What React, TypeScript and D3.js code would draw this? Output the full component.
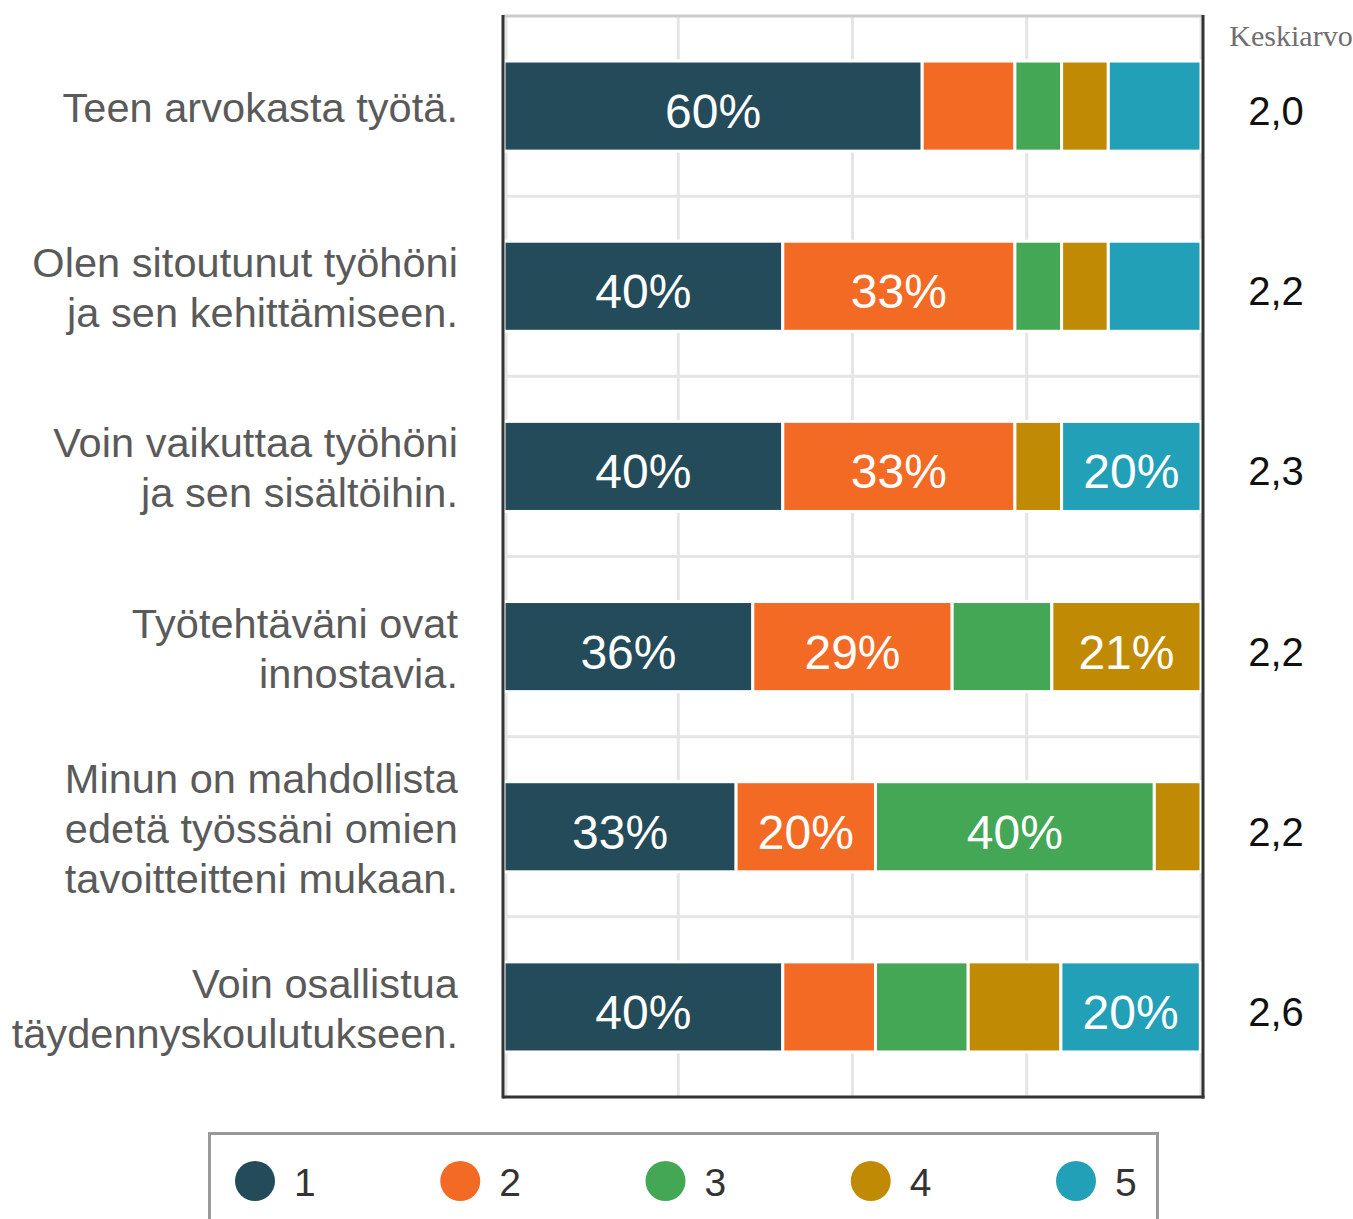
import React from "react";
import * as d3 from "d3";

const categories = [
  ["Teen arvokasta työtä."],
  ["Olen sitoutunut työhöni", "ja sen kehittämiseen."],
  ["Voin vaikuttaa työhöni", "ja sen sisältöihin."],
  ["Työtehtäväni ovat", "innostavia."],
  ["Minun on mahdollista", "edetä työssäni omien", "tavoitteitteni mukaan."],
  ["Voin osallistua", "täydennyskoulutukseen."],
];

// percent shares of answers 1..5 per statement
const share1 = [60, 40, 40, 35.7, 33.3, 40];
const share2 = [13.3, 33.3, 33.3, 28.6, 20, 13.3];
const share3 = [6.7, 6.7, 0, 14.3, 40, 13.3];
const share4 = [6.7, 6.7, 6.7, 21.4, 6.7, 13.3];
const share5 = [13.3, 13.3, 20, 0, 0, 20];

const means = ["2,0", "2,2", "2,3", "2,2", "2,2", "2,6"];

const legendKeys = ["1", "2", "3", "4", "5"];
const colors = ["#234b5a", "#f36a25", "#44a756", "#c18a04", "#22a0b7"];

const W = 1353;
const H = 1219;
const left = 504;
const right = 1201;
const top = 16;
const bottom = 1097;

export default function App() {
  const series = [share1, share2, share3, share4, share5];
  const ids = categories.map((_, i) => String(i));
  const x = d3.scaleLinear().domain([0, 100]).range([left, right]);
  const y = d3
    .scaleBand()
    .domain(ids)
    .range([top, bottom])
    .paddingInner(0.5)
    .paddingOuter(0.25);
  const bw = y.bandwidth();
  const step = y.step();

  const rows = ids.map((id, i) => {
    let acc = 0;
    return series.map((s, k) => {
      const x0 = acc;
      acc += s[i];
      return { k, x0, x1: acc, v: s[i], id };
    });
  });

  const legendX = d3.scalePoint().domain(legendKeys).range([255, 1076]);

  return (
    <svg
      width={W}
      height={H}
      style={{ position: "absolute", left: 0, top: 0 }}
      fontFamily="'Liberation Sans', Arial, sans-serif"
    >
      {/* grid */}
      {[0, 25, 50, 75, 100].map((t) => (
        <line key={t} x1={x(t) + (t === 0 ? 2 : 0)} x2={x(t) + (t === 0 ? 2 : 0)} y1={top} y2={bottom} stroke="#e5e5e5" strokeWidth={3} />
      ))}
      {ids.slice(0, -1).map((id) => {
        const yy = (y(id) as number) + bw / 2 + step / 2;
        return <line key={id} x1={left} x2={right} y1={yy} y2={yy} stroke="#e5e5e5" strokeWidth={3} />;
      })}
      <line x1={left} x2={right + 2} y1={top} y2={top} stroke="#cccccc" strokeWidth={3} />

      {/* bars */}
      {rows.map((segs, i) =>
        segs
          .filter((d) => d.v > 0)
          .map((d) => {
            const y0 = y(d.id) as number;
            return (
              <g key={i + "-" + d.k}>
                <rect
                  x={x(d.x0)}
                  y={y0}
                  width={x(d.x1) - x(d.x0)}
                  height={bw}
                  fill={colors[d.k]}
                  stroke="#ffffff"
                  strokeWidth={3}
                />
                {d.v >= 15 && (
                  <text
                    x={(x(d.x0) + x(d.x1)) / 2}
                    y={y0 + bw / 2 + 22}
                    textAnchor="middle"
                    fill="#ffffff"
                    fontSize={48}
                  >
                    {Math.round(d.v) + "%"}
                  </text>
                )}
              </g>
            );
          })
      )}

      {/* frame */}
      <line x1={503} x2={503} y1={top - 1} y2={bottom + 1.5} stroke="#333333" strokeWidth={3} />
      <line x1={1203} x2={1203} y1={top - 1} y2={bottom + 1.5} stroke="#333333" strokeWidth={3} />
      <line x1={503} x2={1204.5} y1={bottom} y2={bottom} stroke="#333333" strokeWidth={3} />

      {/* category labels */}
      {categories.map((lines, i) => {
        const c = (y(ids[i]) as number) + bw / 2;
        const first = c + 16 - (lines.length - 1) * 25;
        return (
          <text key={i} textAnchor="end" fill="#5a5a5a" fontSize={41.5} letterSpacing={0.05}>
            {lines.map((l, j) => (
              <tspan key={j} x={458} y={first + j * 50}>
                {l}
              </tspan>
            ))}
          </text>
        );
      })}

      {/* means */}
      <text x={1291} y={46} textAnchor="middle" fill="#6f6f6f" fontSize={30} fontFamily="'Liberation Serif', 'Times New Roman', serif">
        Keskiarvo
      </text>
      {means.map((m, i) => (
        <text
          key={i}
          x={1276}
          y={(y(ids[i]) as number) + bw / 2 + 19}
          textAnchor="middle"
          fill="#111111"
          fontSize={40}
        >
          {m}
        </text>
      ))}

      {/* legend */}
      <rect x={209.5} y={1133.5} width={948} height={120} fill="none" stroke="#999999" strokeWidth={3} />
      {legendKeys.map((k, i) => (
        <g key={k}>
          <circle cx={legendX(k)} cy={1181} r={20} fill={colors[i]} />
          <text x={(legendX(k) as number) + 39} y={1196} fill="#333333" fontSize={39}>
            {k}
          </text>
        </g>
      ))}
    </svg>
  );
}
